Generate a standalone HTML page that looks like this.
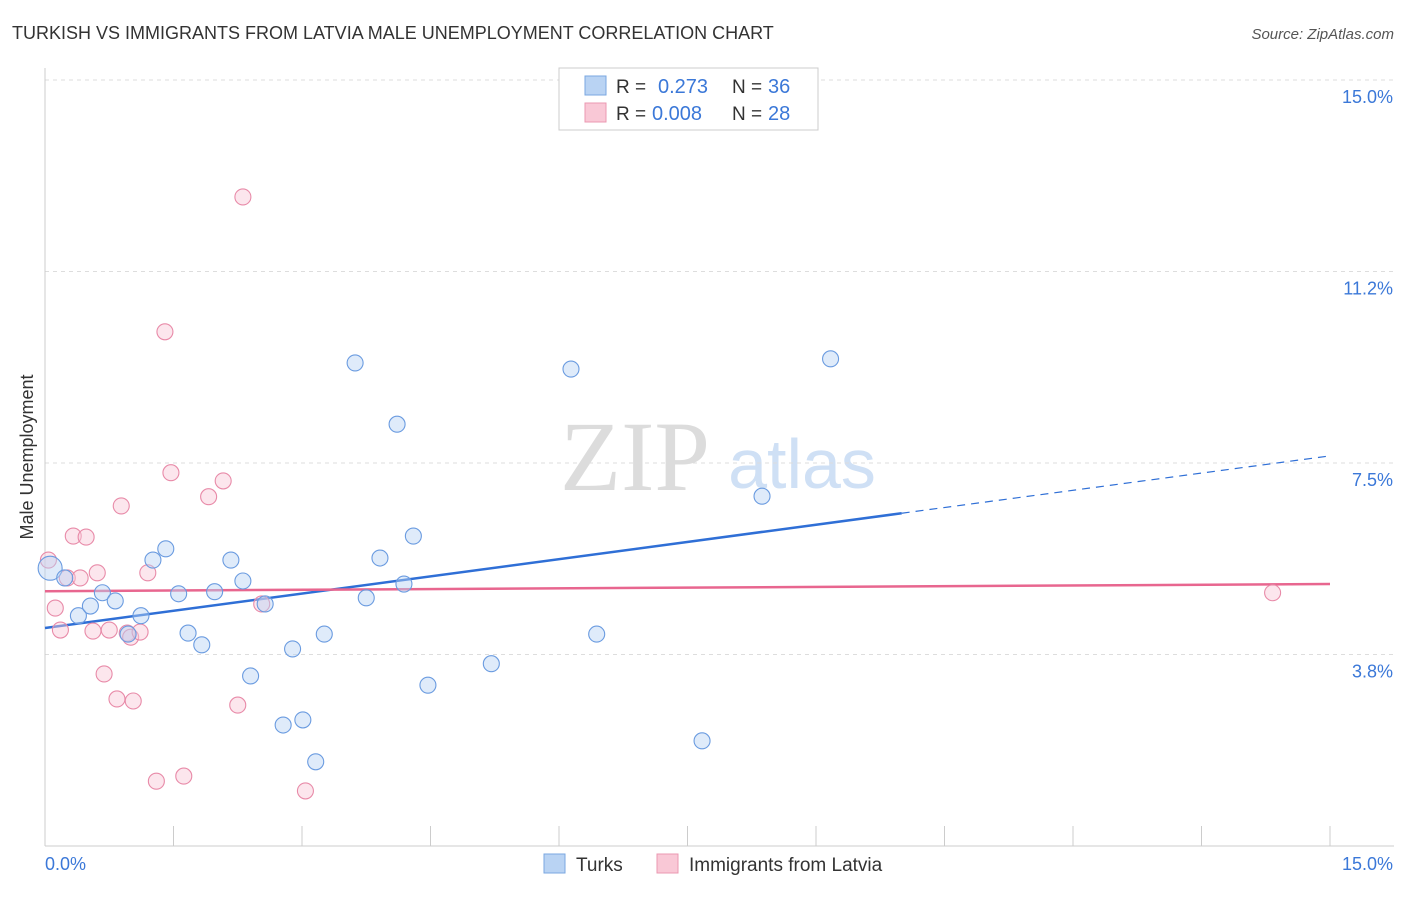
<!DOCTYPE html>
<html><head><meta charset="utf-8"><style>
body{margin:0;background:#fff;font-family:"Liberation Sans",sans-serif;}
</style></head><body>
<svg id="chart" width="1406" height="892" xmlns="http://www.w3.org/2000/svg" font-family="Liberation Sans, sans-serif">
<text x="12" y="39" font-size="18" fill="#333">TURKISH VS IMMIGRANTS FROM LATVIA MALE UNEMPLOYMENT CORRELATION CHART</text>
<text x="1394" y="39" font-size="15" fill="#555" text-anchor="end" font-style="italic">Source: ZipAtlas.com</text>
<text transform="translate(33,457) rotate(-90)" font-size="18" fill="#333" text-anchor="middle">Male Unemployment</text>
<g>
<text x="635" y="490" font-size="100" fill="#dcdcdc" text-anchor="middle" style="font-family:'Liberation Serif',serif">ZIP</text>
<text x="802" y="488" font-size="70" fill="#cfe0f5" text-anchor="middle">atlas</text>
</g>
<g id="grid"></g><g id="axes"></g><g id="lines"></g><g id="pts"></g>
<g>
<rect x="559" y="68" width="259" height="62" fill="#fff" stroke="#ccc"/>
<rect x="585" y="76" width="21" height="19" fill="#b9d3f3" stroke="#7aa7e0"/>
<rect x="585" y="103" width="21" height="19" fill="#f9c8d6" stroke="#eb98b1"/>
<text x="616" y="93" font-size="19" fill="#333">R =</text>
<text x="658" y="93" font-size="20" fill="#3b78d8">0.273</text>
<text x="732" y="93" font-size="19" fill="#333">N =</text>
<text x="768" y="93" font-size="20" fill="#3b78d8">36</text>
<text x="616" y="120" font-size="19" fill="#333">R =</text>
<text x="652" y="120" font-size="20" fill="#3b78d8">0.008</text>
<text x="732" y="120" font-size="19" fill="#333">N =</text>
<text x="768" y="120" font-size="20" fill="#3b78d8">28</text>
</g>
<g>
<rect x="544" y="854" width="21" height="19" fill="#b9d3f3" stroke="#7aa7e0"/>
<text x="576" y="871" font-size="19" fill="#333">Turks</text>
<rect x="657" y="854" width="21" height="19" fill="#f9c8d6" stroke="#eb98b1"/>
<text x="689" y="871" font-size="19" fill="#333">Immigrants from Latvia</text>
</g>
</svg>
<script>
const blueX=[0.06,0.23,0.39,0.53,0.67,0.82,0.97,1.12,1.26,1.41,1.56,1.67,1.83,1.98,2.17,2.31,2.40,2.57,2.78,2.89,3.01,3.16,3.26,3.62,3.75,3.91,4.11,4.19,4.30,4.47,5.21,6.14,6.44,7.67,8.37,9.17];
const blueY=[5.44,5.25,4.51,4.70,4.96,4.80,4.15,4.51,5.60,5.82,4.94,4.17,3.94,4.98,5.60,5.19,3.33,4.74,2.37,3.86,2.47,1.65,4.15,9.46,4.86,5.64,8.26,5.13,6.07,3.15,3.57,9.34,4.15,2.06,6.85,9.54];
const pinkX=[0.04,0.12,0.18,0.26,0.33,0.41,0.48,0.56,0.61,0.69,0.75,0.84,0.89,0.96,1.00,1.03,1.11,1.20,1.30,1.40,1.47,1.62,1.91,2.08,2.25,2.31,2.53,3.04,14.33];
const pinkY=[5.60,4.66,4.23,5.25,6.07,5.25,6.05,4.21,5.35,3.37,4.23,2.88,6.66,4.17,4.09,2.84,4.19,5.35,1.27,10.07,7.31,1.37,6.84,7.15,2.76,12.71,4.74,1.08,4.96];
const blueTrend=[4.27,7.64];
const pinkTrend=[4.99,5.13];
const yTicks=[3.75,7.5,11.25,15];
const yTickLabels=["3.8%","7.5%","11.2%","15.0%"];
const NS="http://www.w3.org/2000/svg";
const sx=v=>45+v/15*1285;
const sy=v=>80+(15-v)*51.07;
function mk(t,a,p){const e=document.createElementNS(NS,t);for(const k in a)e.setAttribute(k,a[k]);document.getElementById(p).appendChild(e);return e;}
yTicks.forEach((t,i)=>{
 const g=mk('line',{x1:45,x2:1394,y1:sy(t),y2:sy(t),stroke:'#ddd','stroke-dasharray':'4,4'},'grid');
 
 
 const l=mk('text',{x:1393,y:sy(t)+23,'font-size':18,fill:'#3b78d8','text-anchor':'end'},'axes');
 l.textContent=yTickLabels[i];
 
 
});
const ax=mk('line',{x1:45,x2:45,y1:68,y2:846,stroke:'#ccc'},'axes');


const bx=mk('line',{x1:45,x2:1394,y1:846,y2:846,stroke:'#ccc'},'axes');


for(let i=1;i<=10;i++){const t=mk('line',{x1:sx(i*1.5),x2:sx(i*1.5),y1:826,y2:846,stroke:'#ccc'},'axes');
 
 }
const x0=mk('text',{x:45,y:870,'font-size':18,fill:'#3b78d8'},'axes');x0.textContent='0.0%';


const x1=mk('text',{x:1393,y:870,'font-size':18,fill:'#3b78d8','text-anchor':'end'},'axes');x1.textContent='15.0%';


function pt(x,y,f,s,r,n){const c=mk('circle',{cx:sx(x),cy:sy(y),r:r,fill:f,'fill-opacity':0.45,stroke:s,'stroke-width':1.1},'pts');
 
 }
pinkX.forEach((x,i)=>pt(x,pinkY[i],'#f9c8d6','#e88aa8',8,'latvia-point'));
blueX.forEach((x,i)=>pt(x,blueY[i],'#b9d3f3','#6a9be0',i===0?12:8,'turks-point'));
const bxEnd=10;
const by=v=>blueTrend[0]+(blueTrend[1]-blueTrend[0])*v/15;
const b1=mk('line',{x1:sx(0),y1:sy(by(0)),x2:sx(bxEnd),y2:sy(by(bxEnd)),stroke:'#2f6fd6','stroke-width':2.5},'lines');


const b2=mk('line',{x1:sx(bxEnd),y1:sy(by(bxEnd)),x2:sx(15),y2:sy(by(15)),stroke:'#2f6fd6','stroke-width':1.2,'stroke-dasharray':'8,6'},'lines');


const p1=mk('line',{x1:sx(0),y1:sy(pinkTrend[0]),x2:sx(15),y2:sy(pinkTrend[1]),stroke:'#e8668f','stroke-width':2.5},'lines');


</script>
</body></html>
